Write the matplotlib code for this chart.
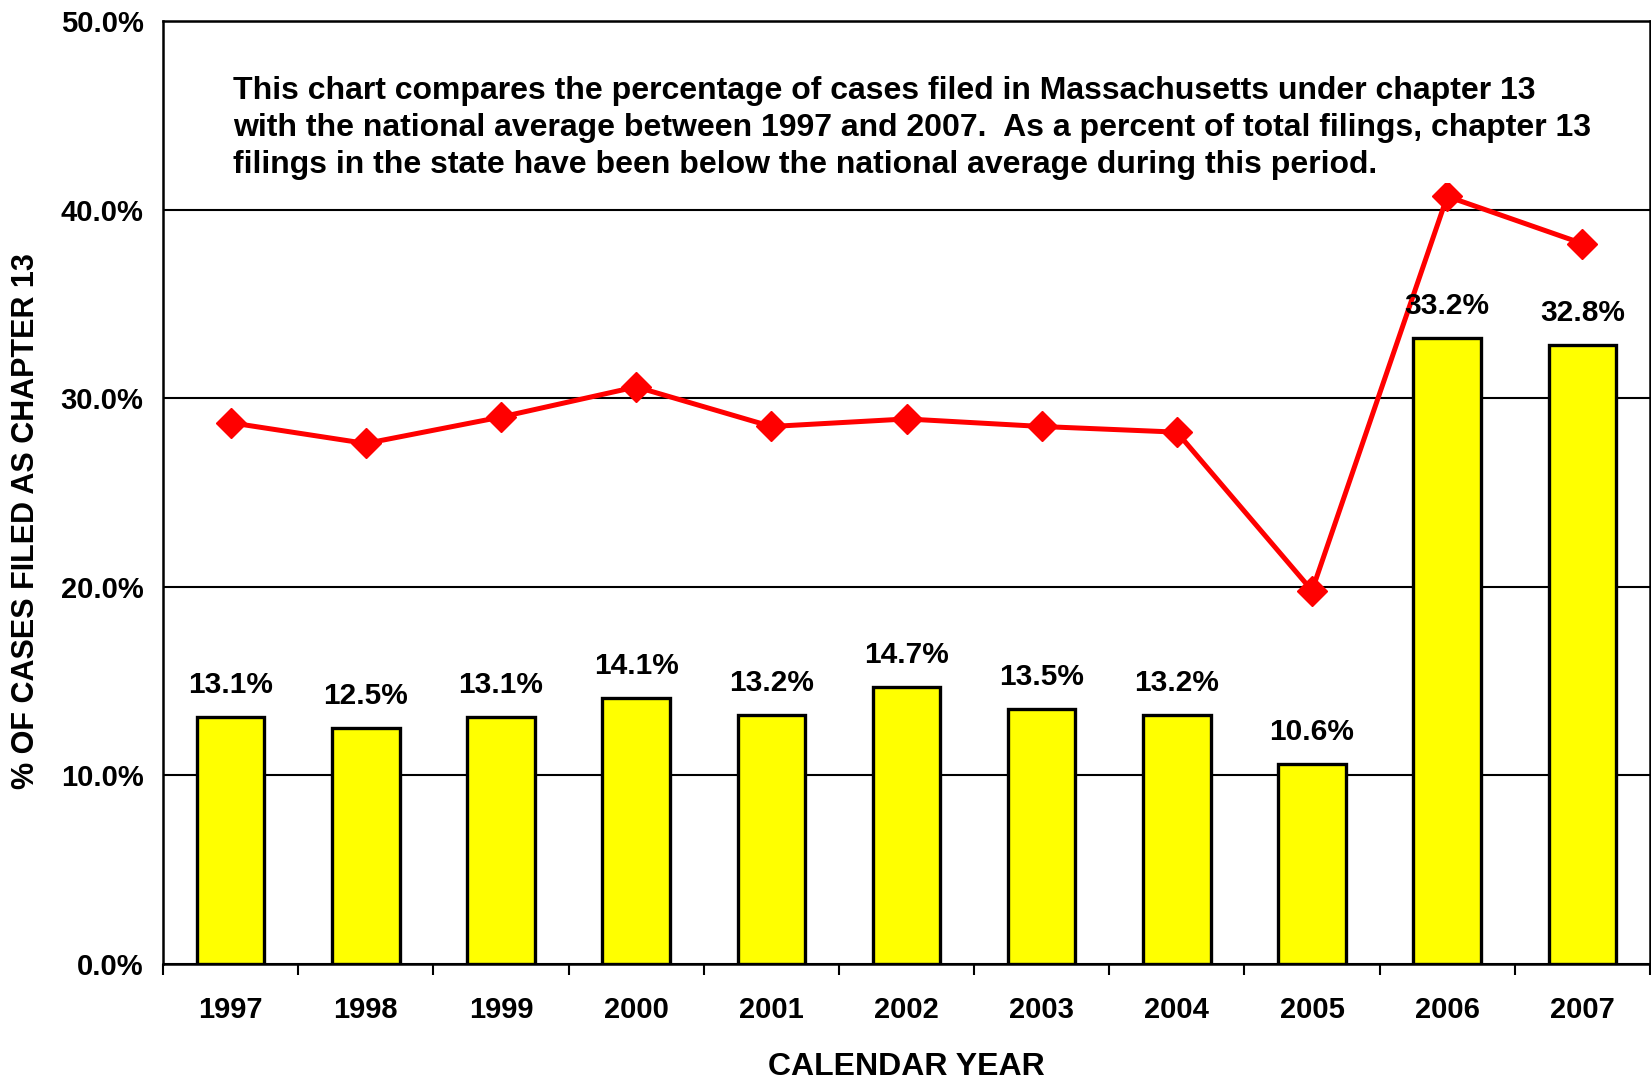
import numpy as np
import matplotlib.pyplot as plt
from matplotlib.ticker import FuncFormatter

years = ['1997', '1998', '1999', '2000', '2001', '2002', '2003', '2004', '2005', '2006', '2007']
mass_pct = [13.1, 12.5, 13.1, 14.1, 13.2, 14.7, 13.5, 13.2, 10.6, 33.2, 32.8]
national_pct = [28.7, 27.6, 29.0, 30.6, 28.5, 28.9, 28.5, 28.2, 19.8, 40.7, 38.2]

note = ('This chart compares the percentage of cases filed in Massachusetts under chapter 13\n'
        'with the national average between 1997 and 2007.  As a percent of total filings, chapter 13\n'
        'filings in the state have been below the national average during this period.')

plt.rcParams['font.family'] = ['Liberation Sans', 'DejaVu Sans']
plt.rcParams['font.weight'] = 'bold'

fig = plt.figure(figsize=(16.51, 10.80), dpi=100)
ax = fig.add_axes([163 / 1651, 1 - 964 / 1080, (1650 - 163) / 1651, (964 - 21) / 1080])

x = np.arange(len(years))
ax.bar(x, mass_pct, width=0.5, color='#ffff00', edgecolor='black', linewidth=2.4, zorder=3)
ax.plot(x, national_pct, color='#ff0000', linewidth=3.6, marker='D', markersize=15,
        markeredgecolor='#ff0000', zorder=4)

for xi, v in zip(x, mass_pct):
    ax.text(xi, v + 1.7, f'{v:.1f}%', ha='center', va='center', fontsize=21.5,
            fontweight='bold', zorder=5)

ax.set_xlim(-0.5, len(years) - 0.5)
ax.set_ylim(0, 50)
ax.set_yticks(np.arange(0, 51, 10))
ax.yaxis.set_major_formatter(FuncFormatter(lambda v, p: f'{v:.1f}%'))
ax.set_xticks(x)
ax.set_xticklabels(years)
ax.set_xticks(np.arange(-0.5, len(years), 1), minor=True)
ax.tick_params(axis='x', which='major', length=0, pad=23, labelsize=21)
ax.tick_params(axis='x', which='minor', length=8, width=1.5, direction='out')
ax.tick_params(axis='y', length=0, pad=14, labelsize=21)
for lab in ax.get_xticklabels() + ax.get_yticklabels():
    lab.set_fontweight('bold')

ax.grid(axis='y', color='black', linewidth=1.5, zorder=0)
for s in ax.spines.values():
    s.set_linewidth(1.8)

fig.text(0.5 * (163 + 1650) / 1651, 1 - 1067 / 1080, 'CALENDAR YEAR', ha='center',
         va='center', fontsize=23, fontweight='bold')
ax.set_ylabel('% OF CASES FILED AS CHAPTER 13', fontsize=22, fontweight='bold', labelpad=14)
ax.yaxis.label.set_y(0.47)

ax.text(233 / 1651, 1 - 76 / 1080, note, transform=fig.transFigure, ha='left', va='top',
        fontsize=23, fontweight='bold', linespacing=1.31,
        bbox=dict(facecolor='white', edgecolor='none', pad=2), zorder=6)

fig.savefig('out.png', dpi=100)
